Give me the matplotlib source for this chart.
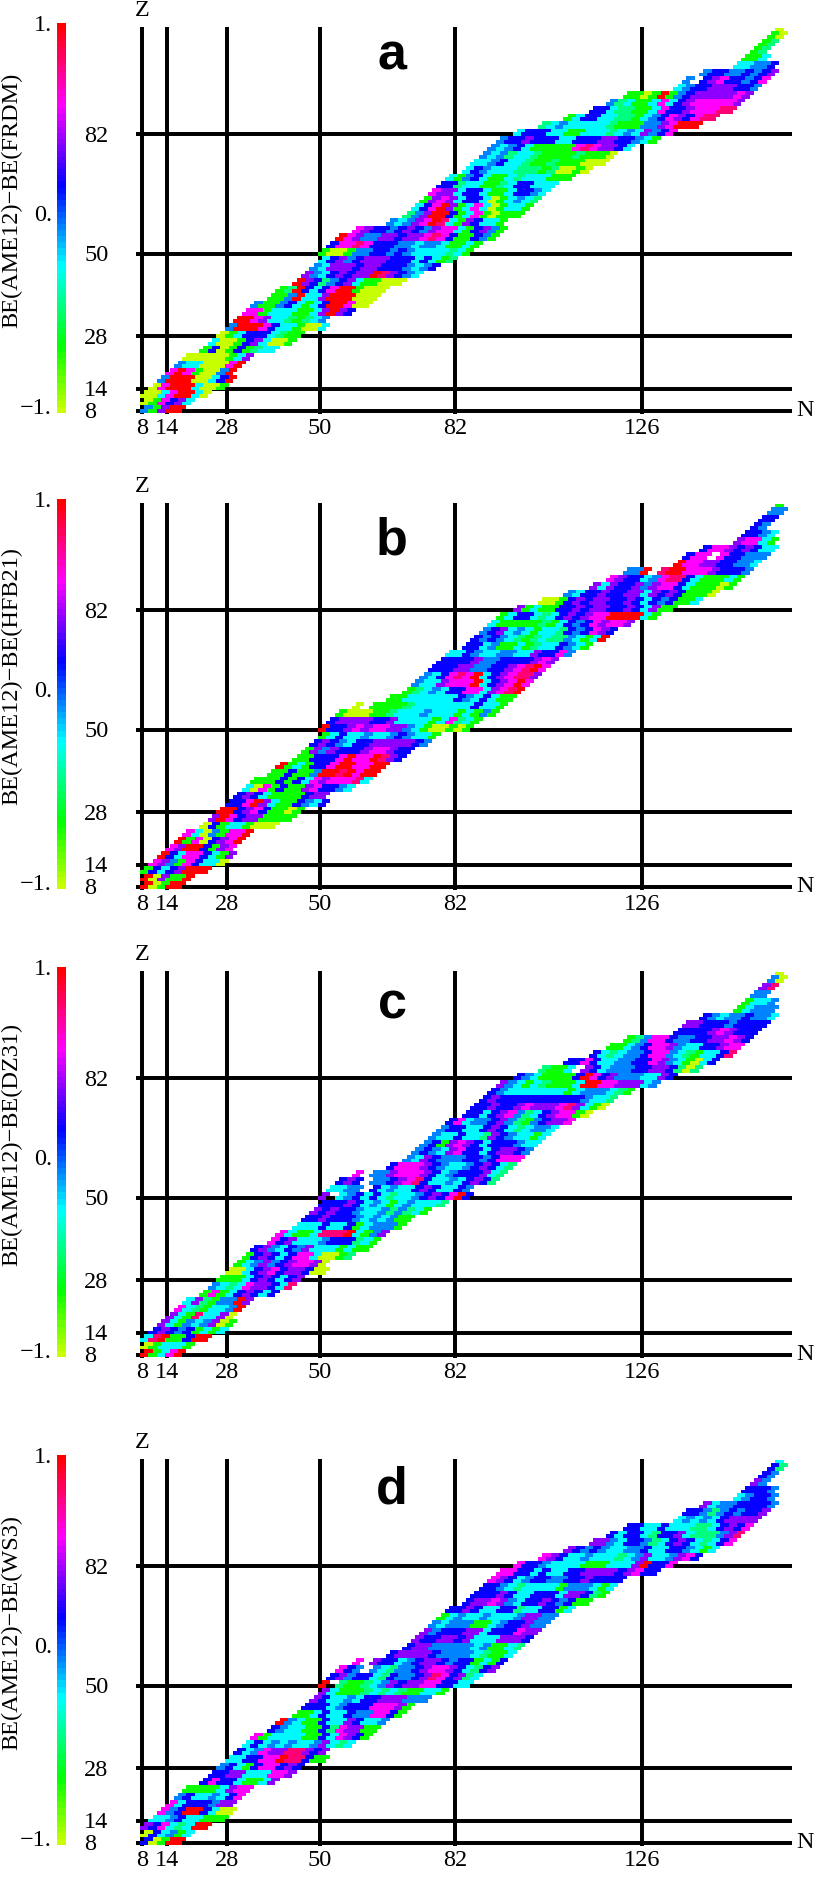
import numpy as np
import matplotlib
matplotlib.use("Agg")
import matplotlib.pyplot as plt
from matplotlib.colors import LinearSegmentedColormap, Normalize

W, H = 830, 1877
plt.rcParams['font.family'] = ['Liberation Serif', 'DejaVu Serif']

MAGIC_N = [8, 14, 28, 50, 82, 126]
MAGIC_Z = [8, 14, 28, 50, 82]
BAR_TICKS = [1.0, 0.0, -1.0]
BAR_LABELS = ['1.', '0.', '\u22121.']
MODELS = ['FRDM', 'HFB21', 'DZ31', 'WS3']
LETTERS = ['a', 'b', 'c', 'd']
OFFSETS = [0, 476, 944, 1432]
LETTER_BASE = [70, 554, 1019, 1504]

CODES = {'y': -1.0, 'g': -0.67, 't': -0.46, 'c': -0.25, 'a': -0.04,
         'b': 0.17, 'v': 0.38, 'm': 0.58, 'p': 0.8, 'r': 1.0}

ROW_Z = list(range(8, 112, 2))
ROW_N = [8, 8, 8, 10, 12, 14, 16, 18, 22, 24, 26, 28, 30, 32, 34, 38, 40, 44, 46, 48,
         50, 50, 52, 54, 58, 66, 70, 72, 74, 76, 78, 80, 84, 86, 88, 90, 92, 96, 102,
         108, 114, 118, 122, 134, 136, 140, 148, 150, 152, 154, 156, 158]

ROWS_A = ["agvrr", "ygmbvc", "yycmrrcy", "ymrrrcyyg", "arrryycbr", "mrmgyyar", "accyyymr",
          "yyyyygcv", "gbygbgtcc", "cyygbvcyyg", "ygcbbbctgg", "arrrmbccgyyc", "rrmvcctgtca",
          "mmgcccggcvrvb", "aggabcgcbrrmyy", "ggarccvrrryyy", "gtrbcbmrrgyyy", "rvbtabvcggyyy",
          "vacbvbvvrpvbac", "acvvvbvvbbbacab", "cbvabvvvbbbcbcgt", "gyygaabbabacccctcg",
          "bmmpmbbbaacaacggcg", "rmvaavvbvvmpmbggbag", "mvbbabvbavmmcgbvag", "acavmrpcgvbccg",
          "tavrrbgcmgyggg", "cbmrvgcmcygccg", "gvmvcbbcygcact", "mvvcbbcggcbbac", "bbtccggtcbbccc",
          "cgabcggctcccggg", "cbaccctttgtyygy", "ccabcctggtgggyyy", "acatcctggggtgggy",
          "acabcgggggmpmvvbc", "abbvbbbccbbbvvbbacg", "cbbbccggccctcacvabm", "tcaccccctgggaavmrrr",
          "gcbbccttgcabmvbmpp", "bbcttggcmbbvmmmpp", "atcggcmcbvmmmmmv", "ggygrgabvvvvvmv",
          "cabbvvvbba", "a.bvmbbabm", "abbaababv", "ccaab", "ggc", "gt", "gt", "gy", "y"]

ROWS_B = ["rygrr", "ryvggr", "gbcbvrrr", "mvagmbccy", "rbcmmbcgv", "mvrrbgvm", "rgmybvmr",
          "mcyagmmr", "ybgccgyyy", "vrmbvvgggg", "rrbvmbggyg", "bbmrvcggbacb", "bvbcggggbvv",
          "cymgbggvmbbac", "gggbgbcmvmmmpc", "ggbggarrprmrr", "rgcgbbmrrmmrr", "ggbbbmrmmrpvb",
          "gvavbbbvmmvbb", "bvbacbbvvvvvba", "gcbccaccabaccg", "rbbvmvmmvvacgyygyg",
          "bvvvvbbvccccgcmtcg", "gyyyggtcccacccgcgag", "y.ggggtcccccccbccg", "ggccccccbacbcgg",
          "gtcacbbmmcvmpr", "accvmmmrcbvmrm", "acbmpmrcbvmppv", "bbbvvaabbvmprm", "bbbbvaabbbbvmv",
          "ccbaccaaccvbbma", "bbcaggcgtccbacg", "babactgtcttacgcr", "abvcacgcctbabmvb",
          "cgggggtgcbabmvmmv", "gcbbctcbvbvmmrrrrcg", "vgcggbbvbvvbbvbcvgg", "yygbvbvvbbvbcbabggc",
          "acbbvbbvvcvbvbgggy", "vcvbbvavmmbcgggyg", "mvbbcamppbcgggcg", "aar.prrmmmvbbba",
          "rmmvvbbaac", "bmm.mbbaaa", "bmmvbvbcc", "vmmcg", "bbac", "ba", "bb", "aa", "g"]

ROWS_C = ["rgcmr", "ygcccg", "cprggbrr", "bvbabgcgc", "vcgacavyg", "vcgpccvy", "mctgccar",
          "cvtgaarv", "gmgcbvbcb", "actcmvvbcp", "gggcbvbcbv", "yycbvmbvvbyy", "gcavabvmmvy",
          "gbvbcbmmcyygt", "bvacbavcccgcgg", "mbvcccabbbtcg", "mcggcppprcgav", "cccbccbgcaaag",
          "bbvbbbacacagg", "vbvbbaccatatcg", "bbbvbcacgcaccct", "v.cabcbctccabvbmrb",
          "ccaa.bcaccbvbccba", "bvb.aabvmpbccacbvbt", "m.aavmmmvbcabbbvct", "bmmmvbaccabvbct",
          "acvbaaabbabmmm", "abacvmbbcbvvba", "abgvmvbcbbbacc", "accbcctvbaccgc", "abbccbvbctcaac",
          "bmcaabvatgabvvm", "bbcbvmatcbvmmgy", "bbvbbvmvvvmpvcgy", "bvbbbbbbbbbbacct",
          "bacccccccgcaaactg", "vacgctgggcrrmmvvvca", "bacggggbrmbvaaaccvb", "tggc.vbcaaabbvvbtyt",
          "bbmbccaabbmvacgycb", "bctcaabmmactgccbp", "ggcabmmvaccbbvmm", "gtammbaabbvvmvb",
          "bbbbvmvbbb", "vvbbbabbbb", "bacaabaac", "gcaaa", "gcca", "aa", "vp", "ay", "y"]

ROWS_D = ["bygrr", "ybcagc", "vbmctcrr", "ccabccggg", "mabrrbcyy", "mcbbbavv", "abccacbm",
          "ggggcvmm", "bmbbcggcv", "bbvvcccmmv", "abcgbmmbvb", "ccbbmmrppbgg", "bcamvvppvbv",
          "cbcacaccavctc", "mgccccggbcmvbg", "baccggbtmvvgg", "racggbccvbcca", "ggcbccbaammbg",
          "bbbcabbbmmmvg", "vbccacbbvvvaaa", "vcgggtctctggccg", "r.tggtcavbvvmmbbcc",
          "bvabbctbaabvpmbvtc", "mba.actaabvmmvbctbv", "m.vbbcabvvbabbgcgb", "bvvvvbaaaactggc",
          "bvvaaaaacaggct", "vbbvvbvcccvvvb", "vabbbvvcbbbmvv", "acaaaggcabbvaa", "gcaccacccavvaa",
          "bbvbccbbtccbbgc", "bvvmvacbbvbabgg", "bbbvbccbbbcvvbtg", "bbactccccgaaacgc",
          "mvbcabbaabbvbbbb", "mmbbcbccbbvvvvbvmbb", "mbbaccccgggcccvrbbm", "mvbccaccctcavccavmb",
          "vbabaccaabccbbacgc", "vvacbbatcbvbctcbm", "bcbbctbbvctttavp", "bbccbcccttcbvbm",
          "cacacbvvvv", "bbatababbv", "vcaabbbba", "cabba", "bbba", "va", "ba", "bt", "c"]

PANEL_ROWS = [ROWS_A, ROWS_B, ROWS_C, ROWS_D]

cmap = LinearSegmentedColormap.from_list(
    'be', [(0.0, '#c8ff00'), (0.167, '#00ff00'), (0.375, '#00ffff'),
           (0.583, '#0000ff'), (0.792, '#ff00ff'), (1.0, '#ff0000')], N=64)
cmap.set_bad((1, 1, 1, 0))
norm = Normalize(-1, 1)

fig = plt.figure(figsize=(W / 100, H / 100), dpi=100, facecolor='white')

def box(left, top, right, bottom):
    return [left / W, 1 - bottom / H, (right - left) / W, (bottom - top) / H]

def ftext(x, y, s, **kw):
    return fig.text(x / W, 1 - y / H, s, **kw)

PX_N = 4.235
PX_Z = 3.74
FS = 17.5
LW = 2.85

n_edges = np.arange(7.5, 163.5, 1.0)
z_edges = np.arange(7.5, 112.5, 1.0)

for rows, model, letter, off, base in zip(PANEL_ROWS, MODELS, LETTERS, OFFSETS, LETTER_BASE):
    left, right, top, bottom = 136, 792, 27 + off, 414 + off
    ax = fig.add_axes(box(left, top, right, bottom))
    ax.set_xlim(8 + (left - 142) / PX_N, 8 + (right - 142) / PX_N)
    ax.set_ylim(8 + (411 + off - bottom) / PX_Z, 8 + (411 + off - top) / PX_Z)
    ax.patch.set_alpha(0)
    for s in ax.spines.values():
        s.set_visible(False)

    grid = np.full((len(z_edges) - 1, len(n_edges) - 1), np.nan)
    for z, n0, codes in zip(ROW_Z, ROW_N, rows, strict=True):
        for k, ch in enumerate(codes):
            if ch == '.':
                continue
            n = n0 + 2 * k
            grid[z - 8, n - 8:n - 6] = CODES[ch]
            if z < 110:
                # the upper row of a block follows the slope of the band
                grid[z - 7, n - 7:n - 5] = CODES[ch]

    for n in MAGIC_N:
        ax.axvline(n, color='k', lw=LW, zorder=1, solid_capstyle='butt')
    for z in MAGIC_Z:
        ax.axhline(z, color='k', lw=LW, zorder=1, solid_capstyle='butt')
    mesh = ax.pcolormesh(n_edges, z_edges, np.ma.masked_invalid(grid), cmap=cmap, norm=norm,
                         zorder=2, linewidth=0, antialiased=False)
    mesh.set_clip_on(False)

    ax.set_xticks(MAGIC_N)
    ax.set_xticklabels([str(n) for n in MAGIC_N], fontsize=FS)
    ax.tick_params(axis='x', length=0, pad=3)
    ax.set_yticks([])

    for z in MAGIC_Z:
        ftext(84, 411 + off - (z - 8) * PX_Z - 0.5, str(z), fontsize=FS, ha='left', va='center_baseline')
    ftext(142, 8 + off, 'Z', fontsize=FS, ha='center', va='center_baseline')
    ftext(805, 408 + off, 'N', fontsize=FS, ha='center', va='center_baseline')
    ftext(392, base, letter, fontsize=37.5, ha='center', va='baseline',
          family=['Liberation Sans'], fontweight='bold')
    ftext(12, 200 + off, f'BE(AME12)\u2212BE({model})', fontsize=FS, rotation=90,
          ha='center', va='center')

    cax = fig.add_axes(box(57, 23 + off, 66, 413 + off))
    levels = np.linspace(-1, 1, 65)
    cax.pcolormesh([0, 1], levels, ((levels[:-1] + levels[1:]) / 2)[:, None], cmap=cmap, norm=norm)
    cax.set_xticks([])
    cax.set_yticks([])
    for s in cax.spines.values():
        s.set_visible(False)
    for v, lab, y in zip(BAR_TICKS, BAR_LABELS, [23, 213, 406]):
        ftext(52, y + off, lab, fontsize=FS, ha='right', va='center_baseline')

fig.savefig('out.png', dpi=100)
